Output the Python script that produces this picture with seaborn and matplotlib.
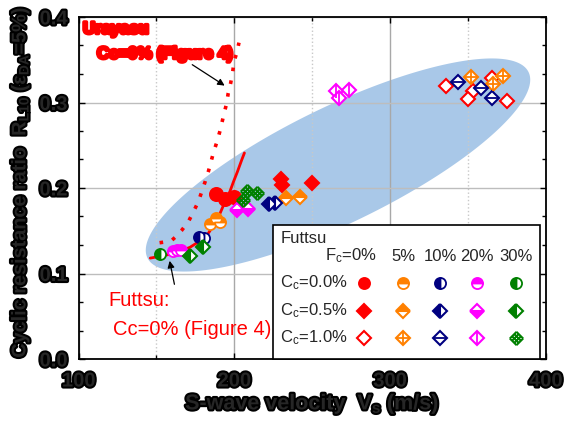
import numpy as np
import matplotlib
matplotlib.use("Agg")
import matplotlib.pyplot as plt
import seaborn as sns
from matplotlib.path import Path
from matplotlib.patches import Polygon, Rectangle
import matplotlib.patheffects as pe
from matplotlib.ticker import MultipleLocator

sns.set_theme(style="white")
plt.rcParams["font.family"] = ["Liberation Sans", "DejaVu Sans"]
plt.rcParams["mathtext.fontset"] = "custom"
plt.rcParams["mathtext.rm"] = "Liberation Sans"
plt.rcParams["mathtext.it"] = "Liberation Sans:italic"
plt.rcParams["mathtext.bf"] = "Liberation Sans:bold"

# ---- Futtsu test results: S-wave velocity Vs (m/s) and R_L10 ----
# Cc = 0.0 %
vs_cc00_fc00 = [188.5, 194.0, 199.5]
rl_cc00_fc00 = [0.193, 0.187, 0.189]
vs_cc00_fc05 = [184.5, 188.0, 190.5]
rl_cc00_fc05 = [0.158, 0.165, 0.160]
vs_cc00_fc10 = [177.5, 180.5]
rl_cc00_fc10 = [0.143, 0.141]
vs_cc00_fc20 = [160.5, 163.5, 166.0]
rl_cc00_fc20 = [0.126, 0.128, 0.127]
vs_cc00_fc30 = [152.3]
rl_cc00_fc30 = [0.1225]
# Cc = 0.5 %
vs_cc05_fc00 = [230.0, 230.4, 249.7]
rl_cc05_fc00 = [0.2105, 0.2035, 0.2062]
vs_cc05_fc05 = [233.2, 242.2]
rl_cc05_fc05 = [0.188, 0.1898]
vs_cc05_fc10 = [222.5, 226.1]
rl_cc05_fc10 = [0.181, 0.1828]
vs_cc05_fc20 = [201.5, 209.0]
rl_cc05_fc20 = [0.174, 0.175]
vs_cc05_fc30 = [171.5, 180.1]
rl_cc05_fc30 = [0.121, 0.131]
# Cc = 1.0 %
vs_cc10_fc00 = [336.0, 365.3, 353.1, 350.3, 374.9]
rl_cc10_fc00 = [0.3196, 0.3283, 0.3129, 0.3046, 0.3014]
vs_cc10_fc05 = [352.2, 372.6, 366.3]
rl_cc10_fc05 = [0.3296, 0.3308, 0.3211]
vs_cc10_fc10 = [343.9, 358.7, 365.3]
rl_cc10_fc10 = [0.3243, 0.3175, 0.3049]
vs_cc10_fc20 = [265.3, 273.7, 267.3]
rl_cc10_fc20 = [0.3138, 0.3146, 0.3049]
vs_cc10_fc30 = [208.0, 214.5, 205.5]
rl_cc10_fc30 = [0.197, 0.194, 0.186]

# Reference curves (Figure 4)
futtsu_curve_vs = [146.0, 152.0, 158.7, 165.0, 171.5, 177.0, 183.3, 188.0,
                   191.0, 195.0, 197.2, 199.4, 202.0, 204.8, 206.5]
futtsu_curve_rl = [0.118, 0.120, 0.1225, 0.126, 0.1306, 0.137, 0.147, 0.160,
                   0.171, 0.188, 0.196, 0.207, 0.219, 0.233, 0.241]
urayasu_curve_vs = [152.0, 156.0, 160.0, 163.0, 166.0, 170.5, 173.7, 176.9,
                    179.1, 181.2, 183.3, 186.5, 189.0, 191.0, 193.4, 195.1,
                    196.1, 197.7, 199.0, 199.8, 201.5, 203.0]
urayasu_curve_rl = [0.136, 0.137, 0.139, 0.144, 0.150, 0.1606, 0.172, 0.184,
                    0.1957, 0.207, 0.219, 0.2406, 0.255, 0.268, 0.287, 0.299,
                    0.311, 0.323, 0.336, 0.348, 0.3575, 0.370]

fc_labels = ["F$_\\mathrm{c}$=0%", "5%", "10%", "20%", "30%"]
cc_labels = ["C$_\\mathrm{c}$=0.0%", "C$_\\mathrm{c}$=0.5%", "C$_\\mathrm{c}$=1.0%"]

RED, ORANGE, NAVY, MAGENTA, GREEN = "#ff0000", "#ff8000", "#000080", "#ff00ff", "#008000"
fc_colors = [RED, ORANGE, NAVY, MAGENTA, GREEN]

# ---- figure geometry ----
W, H = 565, 423
fig = plt.figure(figsize=(W / 100, H / 100), dpi=100)
AX_L, AX_R, AX_T, AX_B = 78.6, 545.7, 17.0, 359.0
ax = fig.add_axes([AX_L / W, 1 - AX_B / H, (AX_R - AX_L) / W, (AX_B - AX_T) / H])
ax.set_xlim(100, 400)
ax.set_ylim(0.0, 0.4)


def axc(px, py):
    return (px - AX_L) / (AX_R - AX_L), (AX_B - py) / (AX_B - AX_T)


def figc(px, py):
    return px / W, 1 - py / H


blob = [pe.withStroke(linewidth=3.0, foreground="black")]
blob_red = [pe.withStroke(linewidth=2.6, foreground=RED)]

# ---- shaded trend ellipse ----
sx = (AX_R - AX_L) / 300.0
sy = (AX_B - AX_T) / 0.4
cx, cy, a_px, b_px, ang = 266.6, 0.2269, 212.0, 58.0, np.deg2rad(26.0)
t = np.linspace(0, 2 * np.pi, 300)
ex = cx + (a_px * np.cos(t) * np.cos(ang) - b_px * np.sin(t) * np.sin(ang)) / sx
ey = cy + (a_px * np.cos(t) * np.sin(ang) + b_px * np.sin(t) * np.cos(ang)) / sy
ax.add_patch(Polygon(np.column_stack([ex, ey]), closed=True,
                     facecolor="#a9c8e8", edgecolor="none", zorder=0.2))

# ---- grid, ticks ----
ax.set_axisbelow(True)
ax.xaxis.set_major_locator(MultipleLocator(100))
ax.xaxis.set_minor_locator(MultipleLocator(50))
ax.yaxis.set_major_locator(MultipleLocator(0.1))
ax.yaxis.set_minor_locator(MultipleLocator(0.1 / 3))
ax.grid(which="major", axis="x", color="#a8a8a8", linewidth=1.0, linestyle="-")
ax.grid(which="major", axis="y", color="#bdbdbd", linewidth=1.0, linestyle="-")
ax.grid(which="minor", axis="x", color="#c8c8c8", linewidth=1.0, linestyle=":")
ax.tick_params(which="both", direction="in", top=True, right=True,
               bottom=True, left=True, color="black")
ax.tick_params(which="major", length=4, width=1.0, labelsize=14.5)
ax.tick_params(axis="x", which="major", pad=9)
ax.tick_params(axis="y", which="major", pad=8)
ax.tick_params(which="minor", length=3, width=1.0)
ax.set_xticks([100, 200, 300, 400])
ax.set_xticklabels(["100", "200", "300", "400"])
ax.set_yticks([0.0, 0.1, 0.2, 0.3, 0.4])
ax.set_yticklabels(["0.0", "0.1", "0.2", "0.3", "0.4"])
for lbl in ax.get_xticklabels() + ax.get_yticklabels():
    lbl.set_fontweight("bold")
    lbl.set_path_effects(blob)
for sp in ax.spines.values():
    sp.set_color("black")
    sp.set_linewidth(1.3)

# ---- reference curves ----
sns.lineplot(x=urayasu_curve_vs, y=urayasu_curve_rl, ax=ax, color=RED,
             linewidth=2.6, linestyle=(0, (1.0, 2.6)), sort=False,
             estimator=None, legend=False, zorder=3)
sns.lineplot(x=futtsu_curve_vs, y=futtsu_curve_rl, ax=ax, color=RED,
             linewidth=2.0, sort=False, estimator=None, legend=False, zorder=3)

# ---- marker drawing ----
u_lines = []
for k in [-1, -1 / 3, 1 / 3, 1]:
    u_lines += [((k, -1), (k, 1)), ((-1, k), (1, k))]
lat_verts, lat_codes = [], []
for (u0, v0), (u1, v1) in u_lines:
    for (u, v), c in (((u0, v0), Path.MOVETO), ((u1, v1), Path.LINETO)):
        lat_verts.append(((u - v) / np.sqrt(2), (u + v) / np.sqrt(2)))
        lat_codes.append(c)
LATTICE = Path(lat_verts, lat_codes)

MS_O, MS_D = 8.0, 6.8


def mark(x, y, color, kind, size_o=MS_O, z=4):
    kw = dict(ax=ax, linestyle="none", sort=False, estimator=None,
              legend=False, zorder=z, color=color)
    if kind in ("full_o", "top_o", "left_o"):
        fs = {"full_o": "full", "top_o": "top", "left_o": "left"}[kind]
        sns.lineplot(x=x, y=y, marker="o", markersize=size_o, fillstyle=fs,
                     markerfacecoloralt="white", markeredgecolor=color,
                     markeredgewidth=1.3, **kw)
    elif kind in ("full_D", "top_D", "left_D", "bottom_D", "open_D"):
        fs = {"full_D": "full", "top_D": "top", "left_D": "left",
              "bottom_D": "bottom", "open_D": "full"}[kind]
        face = "white" if kind == "open_D" else color
        sns.lineplot(x=x, y=y, marker="D", markersize=MS_D, fillstyle=fs,
                     markerfacecolor=face, markerfacecoloralt="white",
                     markeredgecolor=color, markeredgewidth=1.5, **kw)
    elif kind in ("plus_D", "hline_D", "vline_D"):
        sns.lineplot(x=x, y=y, marker="D", markersize=MS_D,
                     markerfacecolor="white", markeredgecolor=color,
                     markeredgewidth=1.5, **kw)
        sym = {"plus_D": "+", "hline_D": "_", "vline_D": "|"}[kind]
        kw2 = dict(kw)
        kw2["zorder"] = z + 0.01
        sns.lineplot(x=x, y=y, marker=sym, markersize=MS_D * 1.38,
                     markeredgecolor=color, markeredgewidth=1.3, **kw2)
    elif kind == "lattice":
        sns.lineplot(x=x, y=y, marker=LATTICE, markersize=MS_D * 1.42,
                     markerfacecolor="none", markeredgecolor=color,
                     markeredgewidth=1.4, **kw)


kinds = [["full_o", "top_o", "left_o", "top_o", "left_o"],
         ["full_D", "top_D", "left_D", "bottom_D", "left_D"],
         ["open_D", "plus_D", "hline_D", "vline_D", "lattice"]]
series = [[(vs_cc00_fc00, rl_cc00_fc00), (vs_cc00_fc05, rl_cc00_fc05),
           (vs_cc00_fc10, rl_cc00_fc10), (vs_cc00_fc20, rl_cc00_fc20),
           (vs_cc00_fc30, rl_cc00_fc30)],
          [(vs_cc05_fc00, rl_cc05_fc00), (vs_cc05_fc05, rl_cc05_fc05),
           (vs_cc05_fc10, rl_cc05_fc10), (vs_cc05_fc20, rl_cc05_fc20),
           (vs_cc05_fc30, rl_cc05_fc30)],
          [(vs_cc10_fc00, rl_cc10_fc00), (vs_cc10_fc05, rl_cc10_fc05),
           (vs_cc10_fc10, rl_cc10_fc10), (vs_cc10_fc20, rl_cc10_fc20),
           (vs_cc10_fc30, rl_cc10_fc30)]]

for i in range(3):
    for j in range(5):
        xs, ys = series[i][j]
        size = 9.5 if (i == 0 and j == 0) else MS_O
        mark(xs, ys, fc_colors[j], kinds[i][j], size_o=size)

# ---- annotations ----
x0, y0 = axc(83, 29)
ax.text(x0, y0, "Urayasu", transform=ax.transAxes, color=RED, fontsize=12,
        fontweight="bold", ha="left", va="center", path_effects=blob_red, zorder=7)
x0, y0 = axc(97, 54)
ax.text(x0, y0, "Cc=0% (Figure 4)", transform=ax.transAxes, color=RED,
        fontsize=12, fontweight="bold", ha="left", va="center",
        path_effects=blob_red, zorder=7)
ax.annotate("", xy=(195.3, 0.318), xytext=(171.5, 0.346),
            arrowprops=dict(arrowstyle="-|>", color="black", lw=0.9,
                            mutation_scale=10), zorder=7)

x0, y0 = axc(108, 300)
ax.text(x0, y0, "Futtsu:", transform=ax.transAxes, color=RED, fontsize=14.5,
        ha="left", va="center", zorder=7)
x0, y0 = axc(113, 329)
ax.text(x0, y0, "Cc=0% (Figure 4)", transform=ax.transAxes, color=RED,
        fontsize=14.5, ha="left", va="center", zorder=7)
ax.annotate("", xy=(158.1, 0.118), xytext=(161.9, 0.0842),
            arrowprops=dict(arrowstyle="-|>", color="black", lw=0.9,
                            mutation_scale=10), zorder=7)

# ---- legend table ----
lx0, ly0 = axc(273, AX_B)
lx1, ly1 = axc(540, 225)
ax.add_patch(Rectangle((lx0, ly0), lx1 - lx0, ly1 - ly0, transform=ax.transAxes,
                       facecolor="white", edgecolor="black", linewidth=1.2,
                       zorder=6, clip_on=False))
tx, ty = axc(281, 238)
ax.text(tx, ty, "Futtsu", transform=ax.transAxes, fontsize=12, ha="left",
        va="center", zorder=7)
col_px = [364, 403, 440, 477, 516]
row_py = [283, 311, 338]
for j, lab in enumerate(fc_labels):
    if j == 0:
        tx, ty = axc(377, 256)
        ax.text(tx, ty, lab, transform=ax.transAxes, fontsize=12, ha="right",
                va="center", zorder=7)
    else:
        tx, ty = axc(col_px[j], 256)
        ax.text(tx, ty, lab, transform=ax.transAxes, fontsize=12, ha="center",
                va="center", zorder=7)
for i, lab in enumerate(cc_labels):
    tx, ty = axc(280, row_py[i])
    ax.text(tx, ty, lab, transform=ax.transAxes, fontsize=12, ha="left",
            va="center", zorder=7)

# legend symbols placed at data positions matching table cells
for i in range(3):
    for j in range(5):
        px_, py_ = col_px[j], row_py[i]
        dx = 100 + (px_ - AX_L) / sx
        dy = (AX_B - py_) / sy
        mark([dx], [dy], fc_colors[j], kinds[i][j], size_o=MS_O, z=8)

# ---- axis titles ----
fx, fy = figc(20, 182)
fig.text(fx, fy, "Cyclic resistance ratio  R$_{\\mathbf{L10}}$ (ε$_{\\mathbf{DA}}$=5%)",
         rotation=90, ha="center", va="center", fontsize=14.3, fontweight="bold",
         path_effects=blob)
fx, fy = figc(312, 404)
fig.text(fx, fy, "S-wave velocity  V$_{\\mathbf{s}}$ (m/s)", ha="center",
         va="center", fontsize=15.5, fontweight="bold", path_effects=blob)

fig.savefig("out.png", dpi=100)
